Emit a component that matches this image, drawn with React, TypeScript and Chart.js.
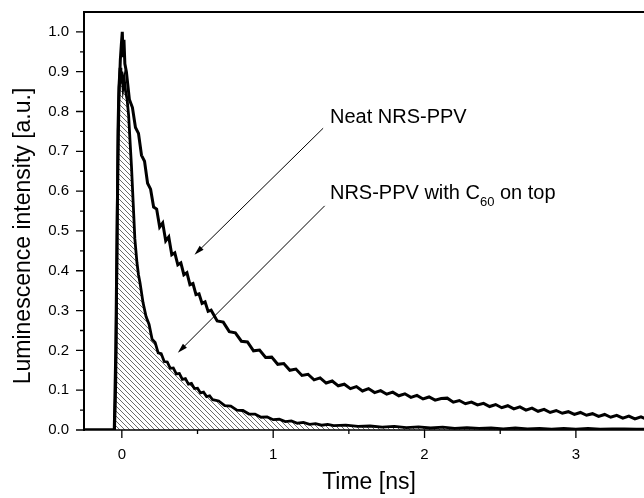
import React, { useEffect, useRef } from "react";
import { Chart, registerables } from "chart.js";

Chart.register(...registerables);

const FONT = '"Liberation Sans", Arial, Helvetica, sans-serif';

// ---- axis ticks ----
const xTickValues = [0, 1, 2, 3];
const xMinorTickValues = [0.5, 1.5, 2.5];
const yTickValues = [0, 0.1, 0.2, 0.3, 0.4, 0.5, 0.6, 0.7, 0.8, 0.9, 1.0];
const yMinorTickValues = [0.05, 0.15, 0.25, 0.35, 0.45, 0.55, 0.65, 0.75, 0.85, 0.95];

const xTitle = "Time [ns]";
const yTitle = "Luminescence intensity [a.u.]";

// ---- Neat NRS-PPV ----
const neatTime = [
  -0.25, -0.05, -0.04, -0.03, -0.02, -0.01, -0.003, 0.003, 0.008, 0.014, 0.02,
  0.03, 0.05, 0.07, 0.09, 0.11, 0.13, 0.15, 0.17, 0.19, 0.21, 0.23, 0.25, 0.27, 0.29,
  0.31, 0.33, 0.35, 0.37, 0.39, 0.41, 0.43, 0.45, 0.47, 0.49, 0.51, 0.53, 0.55, 0.57, 0.59,
  0.63, 0.67, 0.71, 0.75, 0.79, 0.83, 0.87, 0.91, 0.95, 0.99,
  1.03, 1.07, 1.11, 1.15, 1.19, 1.23, 1.27, 1.31, 1.35, 1.39,
  1.43, 1.47, 1.51, 1.55, 1.59, 1.63, 1.67, 1.71, 1.75, 1.79,
  1.83, 1.87, 1.91, 1.95, 1.99, 2.03, 2.07, 2.11, 2.15, 2.19,
  2.23, 2.27, 2.31, 2.35, 2.39, 2.43, 2.47, 2.51, 2.55, 2.59,
  2.63, 2.67, 2.71, 2.75, 2.79, 2.83, 2.87, 2.91, 2.95, 2.99,
  3.03, 3.07, 3.11, 3.15, 3.19, 3.23, 3.27, 3.31, 3.35, 3.39,
  3.43, 3.47,
];
const neatIntensity = [
  0, 0, 0.2, 0.55, 0.82, 0.93, 0.97, 1.0, 0.94, 0.98, 0.92,
  0.90, 0.83, 0.81, 0.76, 0.745, 0.69, 0.675, 0.62, 0.605, 0.56, 0.555, 0.51, 0.52, 0.475,
  0.485, 0.44, 0.445, 0.415, 0.42, 0.39, 0.395, 0.365, 0.368, 0.34, 0.342, 0.318, 0.322, 0.298, 0.301,
  0.274, 0.271, 0.247, 0.244, 0.223, 0.221, 0.199, 0.201, 0.182, 0.183,
  0.165, 0.167, 0.150, 0.153, 0.137, 0.140, 0.126, 0.131, 0.118, 0.123,
  0.111, 0.115, 0.104, 0.109, 0.098, 0.104, 0.094, 0.099, 0.090, 0.095,
  0.086, 0.091, 0.082, 0.087, 0.078, 0.083, 0.075, 0.079, 0.080, 0.070,
  0.074, 0.066, 0.070, 0.063, 0.067, 0.059, 0.064, 0.056, 0.061, 0.053,
  0.058, 0.050, 0.055, 0.047, 0.052, 0.044, 0.049, 0.042, 0.046, 0.039,
  0.044, 0.037, 0.041, 0.034, 0.039, 0.032, 0.037, 0.030, 0.035, 0.028,
  0.033, 0.027,
];

// ---- NRS-PPV with C60 on top ----
const c60Time = [
  -0.25, -0.048, -0.04, -0.032, -0.026, -0.02, -0.012, -0.006, 0, 0.008, 0.016, 0.025,
  0.035, 0.045, 0.055, 0.064, 0.075, 0.086, 0.1, 0.11, 0.12, 0.13, 0.14,
  0.16, 0.18, 0.2, 0.22, 0.24, 0.26, 0.28, 0.3, 0.32, 0.34, 0.36, 0.38, 0.4, 0.42,
  0.44, 0.46, 0.48, 0.5, 0.52, 0.54, 0.56, 0.58, 0.6,
  0.64, 0.68, 0.72, 0.76, 0.8, 0.84, 0.88, 0.92, 0.96, 1.0,
  1.04, 1.08, 1.12, 1.16, 1.2, 1.24, 1.28, 1.32, 1.36, 1.4,
  1.48, 1.56, 1.64, 1.72, 1.8, 1.88, 1.96, 2.04, 2.12, 2.2,
  2.28, 2.36, 2.44, 2.52, 2.6, 2.68, 2.76, 2.84, 2.92, 3.0,
  3.08, 3.16, 3.24, 3.32, 3.4, 3.48,
];
const c60Intensity = [
  0, 0, 0.12, 0.45, 0.75, 0.86, 0.91, 0.87, 0.9, 0.86, 0.88, 0.85,
  0.83, 0.79, 0.72, 0.66, 0.57, 0.48, 0.42, 0.39, 0.37, 0.345, 0.32,
  0.285, 0.265, 0.228, 0.22, 0.194, 0.192, 0.172, 0.171, 0.155, 0.156, 0.141, 0.142, 0.127, 0.129,
  0.115, 0.117, 0.104, 0.105, 0.093, 0.095, 0.084, 0.086, 0.076,
  0.073, 0.061, 0.060, 0.050, 0.049, 0.040, 0.040, 0.032, 0.033, 0.026,
  0.027, 0.021, 0.023, 0.017, 0.019, 0.014, 0.016, 0.012, 0.014, 0.011,
  0.012, 0.009, 0.010, 0.007, 0.009, 0.006, 0.008, 0.005, 0.007, 0.004,
  0.006, 0.004, 0.005, 0.003, 0.005, 0.003, 0.004, 0.002, 0.004, 0.002,
  0.004, 0.002, 0.003, 0.003, 0.002, 0.002,
];

// ---- annotations ----
const neatLabel = "Neat NRS-PPV";
const c60LabelParts = ["NRS-PPV with C", "60", " on top"];

function makeHatch(ctx: CanvasRenderingContext2D) {
  const s = 5;
  const c = document.createElement("canvas");
  c.width = s;
  c.height = s;
  const g = c.getContext("2d")!;
  g.strokeStyle = "#5a5a5a";
  g.lineWidth = 0.9;
  g.beginPath();
  for (let k = -1; k <= 1; k++) {
    g.moveTo(-1, -1 + k * s);
    g.lineTo(s + 1, s + 1 + k * s);
  }
  g.stroke();
  return ctx.createPattern(c, "repeat")!;
}

function drawArrow(ctx: CanvasRenderingContext2D, x1: number, y1: number, x2: number, y2: number) {
  const ang = Math.atan2(y2 - y1, x2 - x1);
  const len = 10;
  const hw = 2.8;
  ctx.beginPath();
  ctx.moveTo(x1, y1);
  ctx.lineTo(x2 - Math.cos(ang) * len * 0.8, y2 - Math.sin(ang) * len * 0.8);
  ctx.stroke();
  ctx.beginPath();
  ctx.moveTo(x2, y2);
  ctx.lineTo(x2 - Math.cos(ang) * len - Math.sin(ang) * hw, y2 - Math.sin(ang) * len + Math.cos(ang) * hw);
  ctx.lineTo(x2 - Math.cos(ang) * len + Math.sin(ang) * hw, y2 - Math.sin(ang) * len - Math.cos(ang) * hw);
  ctx.closePath();
  ctx.fill();
}

const decorPlugin = {
  id: "decor",
  afterDraw(chart: any) {
    const { ctx, chartArea: a } = chart;
    const x = chart.scales.x;
    const y = chart.scales.y;
    ctx.save();
    ctx.strokeStyle = "#000";
    ctx.fillStyle = "#000";
    // frame: left + top
    ctx.lineWidth = 2;
    ctx.beginPath();
    ctx.moveTo(a.left, a.bottom + 1);
    ctx.lineTo(a.left, a.top);
    ctx.lineTo(a.right, a.top);
    ctx.stroke();
    // bottom axis
    ctx.lineWidth = 1.3;
    ctx.beginPath();
    ctx.moveTo(a.left, a.bottom);
    ctx.lineTo(a.right, a.bottom);
    ctx.stroke();

    // ticks
    ctx.lineWidth = 1.3;
    ctx.beginPath();
    yTickValues.forEach((v) => {
      const py = y.getPixelForValue(v);
      ctx.moveTo(a.left - 8, py);
      ctx.lineTo(a.left, py);
    });
    yMinorTickValues.forEach((v) => {
      const py = y.getPixelForValue(v);
      ctx.moveTo(a.left - 4, py);
      ctx.lineTo(a.left, py);
    });
    xTickValues.forEach((v) => {
      const px = x.getPixelForValue(v);
      ctx.moveTo(px, a.bottom);
      ctx.lineTo(px, a.bottom + 8);
    });
    xMinorTickValues.forEach((v) => {
      const px = x.getPixelForValue(v);
      ctx.moveTo(px, a.bottom);
      ctx.lineTo(px, a.bottom + 4);
    });
    ctx.stroke();

    // arrows
    ctx.lineWidth = 1;
    drawArrow(ctx, x.getPixelForValue(1.33), y.getPixelForValue(0.758), x.getPixelForValue(0.48), y.getPixelForValue(0.44));
    drawArrow(ctx, x.getPixelForValue(1.34), y.getPixelForValue(0.563), x.getPixelForValue(0.37), y.getPixelForValue(0.194));

    // labels
    ctx.textBaseline = "alphabetic";
    ctx.textAlign = "left";
    ctx.font = `20px ${FONT}`;
    const lx = x.getPixelForValue(1.375);
    ctx.fillText(neatLabel, lx, y.getPixelForValue(0.772));
    const by = y.getPixelForValue(0.58);
    let cx = lx;
    ctx.fillText(c60LabelParts[0], cx, by);
    cx += ctx.measureText(c60LabelParts[0]).width;
    ctx.font = `13px ${FONT}`;
    ctx.fillText(c60LabelParts[1], cx, by + 7);
    cx += ctx.measureText(c60LabelParts[1]).width;
    ctx.font = `20px ${FONT}`;
    ctx.fillText(c60LabelParts[2], cx, by);

    // axis titles
    ctx.font = `23px ${FONT}`;
    ctx.textAlign = "center";
    ctx.fillText(xTitle, 369, 489);
    ctx.save();
    ctx.translate(30, 236);
    ctx.rotate(-Math.PI / 2);
    ctx.fillText(yTitle, 0, 0);
    ctx.restore();
    ctx.restore();
  },
};

export default function App() {
  const ref = useRef<HTMLCanvasElement>(null);
  useEffect(() => {
    const canvas = ref.current!;
    const ctx = canvas.getContext("2d")!;
    const hatch = makeHatch(ctx);
    const chart = new Chart(ctx, {
      type: "line",
      data: {
        datasets: [
          {
            label: "Neat NRS-PPV",
            data: neatTime.map((t, i) => ({ x: t, y: neatIntensity[i] })),
            borderColor: "#000",
            borderWidth: 3,
            pointRadius: 0,
            fill: false,
            tension: 0,
          },
          {
            label: "NRS-PPV with C60 on top",
            data: c60Time.map((t, i) => ({ x: t, y: c60Intensity[i] })),
            borderColor: "#000",
            borderWidth: 2.8,
            pointRadius: 0,
            fill: "origin",
            backgroundColor: hatch,
            tension: 0,
          },
        ],
      },
      options: {
        responsive: false,
        animation: false,
        events: [],
        layout: { padding: { top: 12, right: 0, left: 0, bottom: 0 } },
        plugins: {
          legend: { display: false },
          tooltip: { enabled: false },
          filler: { drawTime: "beforeDatasetsDraw" },
        } as any,
        scales: {
          x: {
            type: "linear",
            min: -0.25,
            max: 3.45,
            grid: { display: false, drawTicks: false },
            border: { display: false },
            afterBuildTicks: (s: any) => {
              s.ticks = xTickValues.map((v) => ({ value: v }));
            },
            afterFit: (s: any) => {
              s.height = 68;
              s.paddingLeft = 0;
              s.paddingRight = 0;
            },
            ticks: {
              padding: 16,
              color: "#000",
              font: { family: FONT, size: 15 },
              maxRotation: 0,
              callback: (v: any) => String(v),
            },
          },
          y: {
            type: "linear",
            min: 0,
            max: 1.05,
            grid: { display: false, drawTicks: false },
            border: { display: false },
            afterBuildTicks: (s: any) => {
              s.ticks = yTickValues.map((v) => ({ value: v }));
            },
            afterFit: (s: any) => {
              s.width = 84;
              s.paddingTop = 0;
              s.paddingBottom = 0;
            },
            ticks: {
              padding: 15,
              color: "#000",
              font: { family: FONT, size: 15 },
              callback: (v: any) => Number(v).toFixed(1),
            },
          },
        },
      },
      plugins: [decorPlugin],
    });
    return () => chart.destroy();
  }, []);
  return (
    <div style={{ position: "absolute", left: 0, top: 0, width: 644, height: 498, background: "#fff" }}>
      <canvas ref={ref} width={644} height={498} style={{ display: "block", width: 644, height: 498 }} />
    </div>
  );
}
